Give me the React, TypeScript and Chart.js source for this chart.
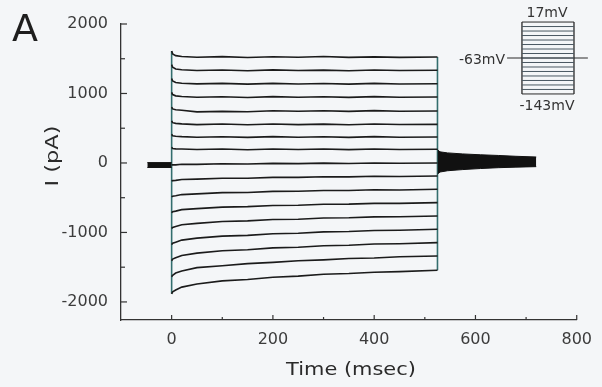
import React, { useEffect, useRef } from "react";
import { Chart, registerables } from "chart.js";

Chart.register(...registerables);

// ---------- data ----------
const stepTimes = [0, 2, 8, 20, 50, 100, 150, 200, 250, 300, 350, 400, 450, 525];

// one row per voltage step, from +17 mV (top) to -143 mV (bottom), values in pA
const stepCurrents: number[][] = [
  [1610, 1570, 1545, 1532, 1522, 1530, 1518, 1528, 1521, 1532, 1520, 1527, 1519, 1525],
  [1415, 1378, 1352, 1342, 1330, 1338, 1327, 1340, 1331, 1336, 1328, 1339, 1330, 1334],
  [1215, 1180, 1158, 1148, 1138, 1145, 1134, 1146, 1137, 1143, 1135, 1146, 1137, 1141],
  [1015, 985, 966, 957, 946, 954, 943, 955, 946, 952, 944, 955, 946, 950],
  [805, 778, 765, 758, 735, 742, 738, 752, 744, 751, 743, 753, 745, 748],
  [605, 580, 570, 562, 552, 560, 550, 561, 552, 559, 551, 561, 553, 556],
  [412, 392, 385, 379, 370, 378, 368, 379, 370, 377, 369, 379, 371, 374],
  [225, 208, 203, 200, 193, 201, 191, 202, 193, 200, 192, 202, 194, 197],
  [-30, -26, -27, -19, -20, -11, -14, -6, -10, -2, -7, 0, -5, 0],
  [-262, -254, -251, -238, -233, -219, -219, -207, -208, -198, -200, -191, -194, -187],
  [-489, -478, -472, -455, -445, -427, -424, -409, -408, -396, -396, -386, -388, -379],
  [-716, -702, -693, -672, -657, -635, -629, -612, -609, -594, -593, -581, -581, -571],
  [-943, -927, -914, -890, -869, -843, -834, -814, -809, -792, -789, -776, -775, -763],
  [-1175, -1155, -1140, -1110, -1082, -1053, -1042, -1018, -1011, -992, -987, -972, -969, -955],
  [-1407, -1384, -1365, -1331, -1297, -1264, -1249, -1222, -1212, -1191, -1184, -1167, -1162, -1147],
  [-1638, -1616, -1584, -1556, -1506, -1479, -1448, -1431, -1407, -1394, -1374, -1367, -1350, -1338],
  [-1884, -1855, -1829, -1787, -1741, -1697, -1677, -1644, -1629, -1601, -1591, -1572, -1564, -1544],
];

const holdingTimes = [-48, 0];
const holdingUpper = [5, 5];
const holdingLower = [-65, -65];

const tailTimes = [525, 530, 545, 575, 610, 645, 680, 720];
const tailUpper = [190, 160, 145, 130, 118, 108, 96, 86];
const tailLower = [-160, -130, -112, -95, -80, -68, -60, -53];

const xMajorTicks = [0, 200, 400, 600, 800];
const xMinorTicks = [100, 300, 500, 700];
const yMajorTicks = [-2000, -1000, 0, 1000, 2000];
const yMinorTicks = [-1500, -500, 500, 1500];

// voltage protocol inset
const protocolLevels = [17, 7, -3, -13, -23, -33, -43, -53, -63, -73, -83, -93, -103, -113, -123, -133, -143];
const holdingPotential = -63;
const stepStart = 0;
const stepEnd = 525;
const holdingStart = -150;
const holdingEnd = 665;

const FONT = "'DejaVu Sans', 'Liberation Sans', sans-serif";
const INK = "#1b1b1b";
const AXIS = "#333333";
const EDGE = "#336e6e";

const inwardTicks = {
  id: "inwardTicks",
  afterDraw(chart: any) {
    const { ctx, chartArea, scales } = chart;
    ctx.save();
    ctx.strokeStyle = AXIS;
    ctx.lineWidth = 1.2;
    [...xMajorTicks, ...xMinorTicks].forEach((v) => {
      const px = scales.x.getPixelForValue(v);
      const len = xMajorTicks.includes(v) ? 5 : 3;
      ctx.beginPath();
      ctx.moveTo(px, chartArea.bottom);
      ctx.lineTo(px, chartArea.bottom - len);
      ctx.stroke();
    });
    [...yMajorTicks, ...yMinorTicks].forEach((v) => {
      const py = scales.y.getPixelForValue(v);
      const len = yMajorTicks.includes(v) ? 6 : 4;
      ctx.beginPath();
      ctx.moveTo(chartArea.left, py);
      ctx.lineTo(chartArea.left + len, py);
      ctx.stroke();
    });
    ctx.restore();
  },
};

export default function App() {
  const mainRef = useRef<HTMLCanvasElement | null>(null);
  const insetRef = useRef<HTMLCanvasElement | null>(null);

  useEffect(() => {
    document.body.style.margin = "0";
    document.body.style.background = "#f4f6f8";

    const traceSets = stepCurrents.map((row) => ({
      data: stepTimes.map((t, i) => ({ x: t, y: row[i] })),
      borderColor: INK,
      borderWidth: 1.6,
      pointRadius: 0,
      fill: false,
    }));
    const startVals = stepCurrents.map((r) => r[0]);
    const endVals = stepCurrents.map((r) => r[r.length - 1]);
    const edgeSets = [
      {
        data: [
          { x: stepTimes[0], y: Math.max(...startVals) },
          { x: stepTimes[0], y: Math.min(...startVals) },
        ],
        borderColor: EDGE,
        borderWidth: 1.6,
        pointRadius: 0,
        fill: false,
      },
      {
        data: [
          { x: stepTimes[stepTimes.length - 1], y: Math.max(...endVals) },
          { x: stepTimes[stepTimes.length - 1], y: Math.min(...endVals) },
        ],
        borderColor: EDGE,
        borderWidth: 1.6,
        pointRadius: 0,
        fill: false,
      },
    ];
    const band = (times: number[], vals: number[], fill: any) => ({
      data: times.map((t, i) => ({ x: t, y: vals[i] })),
      borderColor: "#111111",
      backgroundColor: "#111111",
      borderWidth: 1,
      pointRadius: 0,
      fill,
    });

    const main = new Chart(mainRef.current as HTMLCanvasElement, {
      type: "line",
      data: {
        datasets: [
          band(holdingTimes, holdingUpper, "+1"),
          band(holdingTimes, holdingLower, false),
          band(tailTimes, tailUpper, "+1"),
          band(tailTimes, tailLower, false),
          ...traceSets,
          ...edgeSets,
        ] as any,
      },
      options: {
        animation: false,
        responsive: false,
        devicePixelRatio: 1,
        layout: { padding: { left: 0, top: 24, right: 21, bottom: 0 } },
        plugins: { legend: { display: false }, tooltip: { enabled: false } },
        scales: {
          x: {
            type: "linear",
            min: -100,
            max: 800,
            grid: { display: false, drawTicks: false },
            border: { display: true, color: AXIS, width: 1.3 },
            afterBuildTicks: (s: any) => {
              s.ticks = xMajorTicks.map((v) => ({ value: v }));
            },
            afterFit: (s: any) => {
              s.height = 67;
            },
            ticks: {
              padding: 10,
              color: "#3c3c3c",
              font: { family: FONT, size: 16 },
              maxRotation: 0,
              autoSkip: false,
              callback: (v: any) => String(v),
            },
          },
          y: {
            type: "linear",
            min: -2260,
            max: 2000,
            grid: { display: false, drawTicks: false },
            border: { display: true, color: AXIS, width: 1.3 },
            afterBuildTicks: (s: any) => {
              s.ticks = yMajorTicks.map((v) => ({ value: v }));
            },
            afterFit: (s: any) => {
              s.width = 121;
            },
            ticks: {
              padding: 13,
              color: "#3c3c3c",
              font: { family: FONT, size: 16 },
              autoSkip: false,
              callback: (v: any) => String(v),
            },
          },
        },
      },
      plugins: [inwardTicks],
    });

    const levelSets = protocolLevels.map((v) => ({
      data: [
        { x: stepStart, y: v },
        { x: stepEnd, y: v },
      ],
      borderColor: v === protocolLevels[0] || v === protocolLevels[protocolLevels.length - 1] ? "#2a2a2a" : "#4a5862",
      borderWidth: 1,
      pointRadius: 0,
    }));
    const top = protocolLevels[0];
    const bottom = protocolLevels[protocolLevels.length - 1];
    const inset = new Chart(insetRef.current as HTMLCanvasElement, {
      type: "line",
      data: {
        datasets: [
          ...levelSets,
          {
            data: [
              { x: holdingStart, y: holdingPotential },
              { x: holdingEnd, y: holdingPotential },
            ],
            borderColor: "#2a2a2a",
            borderWidth: 1.2,
            pointRadius: 0,
          },
          {
            data: [
              { x: stepStart, y: top },
              { x: stepStart, y: bottom },
            ],
            borderColor: "#2a2a2a",
            borderWidth: 1.3,
            pointRadius: 0,
          },
          {
            data: [
              { x: stepEnd, y: top },
              { x: stepEnd, y: bottom },
            ],
            borderColor: "#2a2a2a",
            borderWidth: 1.3,
            pointRadius: 0,
          },
        ] as any,
      },
      options: {
        animation: false,
        responsive: false,
        devicePixelRatio: 1,
        layout: { padding: 0 },
        plugins: { legend: { display: false }, tooltip: { enabled: false } },
        scales: {
          x: { type: "linear", display: false, min: -272, max: 737 },
          y: { type: "linear", display: false, min: -152, max: 26 },
        },
      },
    });

    return () => {
      main.destroy();
      inset.destroy();
    };
  }, []);

  const label = (text: string, left: number, topPx: number, extra: React.CSSProperties = {}) => (
    <div
      style={{
        position: "absolute",
        left,
        top: topPx,
        transform: "translate(-50%, -50%)",
        fontFamily: FONT,
        fontSize: 14,
        lineHeight: 1,
        color: "#333",
        whiteSpace: "nowrap",
        ...extra,
      }}
    >
      {text}
    </div>
  );

  return (
    <div style={{ position: "relative", width: 602, height: 387, background: "#f4f6f8", overflow: "hidden" }}>
      <canvas ref={mainRef} width={602} height={387} style={{ position: "absolute", left: 0, top: 0 }} />
      <canvas ref={insetRef} width={100} height={80} style={{ position: "absolute", left: 495, top: 18 }} />
      <div
        style={{
          position: "absolute",
          left: 12,
          top: 9,
          fontFamily: FONT,
          fontSize: 38,
          lineHeight: 1,
          color: "#1e1e1e",
        }}
      >
        A
      </div>
      {label("Time (msec)", 351, 369, {
        fontSize: 17,
        color: "#2a2a2a",
        transform: "translate(-50%, -50%) scaleX(1.23)",
      })}
      {label("I (pA)", 52, 156, {
        fontSize: 17,
        color: "#2a2a2a",
        transform: "translate(-50%, -50%) rotate(-90deg) scaleX(1.32)",
      })}
      {label("17mV", 547, 12)}
      {label("-63mV", 482, 59)}
      {label("-143mV", 547, 105)}
    </div>
  );
}
